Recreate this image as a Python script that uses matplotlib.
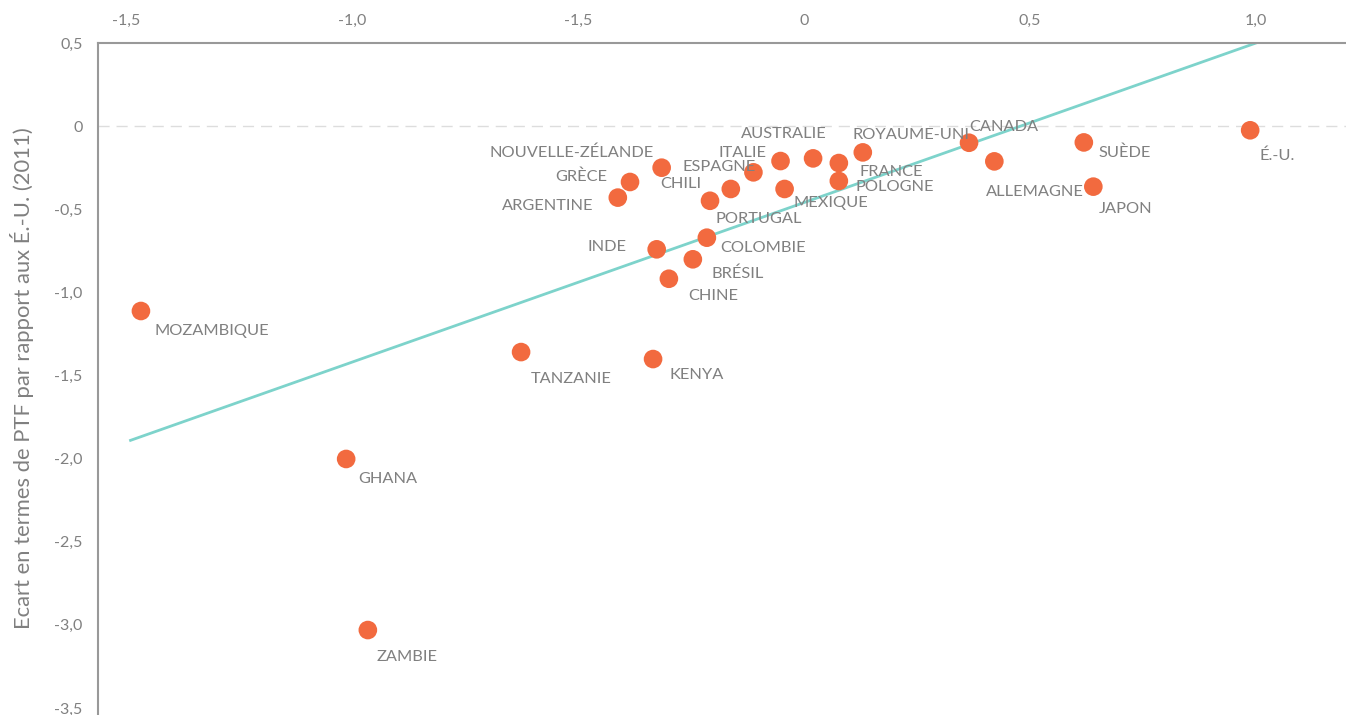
import matplotlib.pyplot as plt

countries = ["MOZAMBIQUE", "GHANA", "ZAMBIE", "TANZANIE", "KENYA", "NOUVELLE-ZÉLANDE",
             "GRÈCE", "ARGENTINE", "CHILI", "ESPAGNE", "ITALIE", "AUSTRALIE", "ROYAUME-UNI",
             "FRANCE", "POLOGNE", "MEXIQUE", "PORTUGAL", "COLOMBIE", "INDE", "BRÉSIL",
             "CHINE", "CANADA", "ALLEMAGNE", "SUÈDE", "JAPON", "É.-U."]
x_vals = [-1.467, -1.013, -0.965, -0.626, -0.334, -0.315, -0.385, -0.412, -0.162, -0.112,
          -0.052, 0.020, 0.130, 0.077, 0.077, -0.043, -0.208, -0.215, -0.326, -0.246,
          -0.299, 0.365, 0.421, 0.619, 0.640, 0.987]
y_vals = [-1.112, -2.002, -3.031, -1.359, -1.401, -0.250, -0.336, -0.430, -0.378, -0.278,
          -0.210, -0.194, -0.158, -0.222, -0.330, -0.378, -0.449, -0.671, -0.741, -0.801,
          -0.918, -0.100, -0.212, -0.098, -0.364, -0.025]

trend_x = [-1.49, 1.005]
trend_y = [-1.89, 0.505]

xticks = [-1.5, -1.0, -0.5, 0, 0.5, 1.0]
xtick_labels = ["-1,5", "-1,0", "-1,5", "0", "0,5", "1,0"]
yticks = [0.5, 0, -0.5, -1.0, -1.5, -2.0, -2.5, -3.0, -3.5]
ytick_labels = ["0,5", "0", "-0,5", "-1,0", "-1,5", "-2,0", "-2,5", "-3,0", "-3,5"]

# label offsets in pixels (dx, dy downward) and horizontal alignment
label_pos = {
    "MOZAMBIQUE": (14, 18, "left"), "GHANA": (12, 18, "left"), "ZAMBIE": (9, 25, "left"),
    "TANZANIE": (10, 25, "left"), "KENYA": (16, 14, "left"),
    "NOUVELLE-ZÉLANDE": (-8, -17, "right"), "GRÈCE": (-23, -7, "right"),
    "ARGENTINE": (-24, 6, "right"), "CHILI": (-29, -7, "right"), "ESPAGNE": (2, -7, "right"),
    "ITALIE": (-14, -10, "right"), "AUSTRALIE": (14, -26, "right"),
    "ROYAUME-UNI": (-10, -19, "left"), "FRANCE": (21, 7, "left"), "POLOGNE": (17, 4, "left"),
    "MEXIQUE": (9, 12, "left"), "PORTUGAL": (5, 16, "left"), "COLOMBIE": (13, 8, "left"),
    "INDE": (-30, -4, "right"), "BRÉSIL": (19, 12, "left"), "CHINE": (19, 15, "left"),
    "CANADA": (0, -18, "left"), "ALLEMAGNE": (-8, 29, "left"), "SUÈDE": (15, 8, "left"),
    "JAPON": (5, 20, "left"), "É.-U.": (9, 23, "left"),
}

plt.rcParams['font.family'] = ['Lato', 'DejaVu Sans']
gray = "#808080"

fig = plt.figure(figsize=(13.46, 7.15), dpi=100)
ax = fig.add_axes([98 / 1346, 0, 1 - 98 / 1346, 1 - 43 / 715])

ax.axhline(0, color="#dddddd", lw=1, dashes=(8, 5), zorder=1)
ax.plot(trend_x, trend_y, color="#7dd3cb", lw=2, zorder=2)
ax.scatter(x_vals, y_vals, s=180, color="#f26a3f", edgecolors="none", zorder=3)

for name, xv, yv in zip(countries, x_vals, y_vals):
    dx, dy, ha = label_pos[name]
    ax.annotate(name, (xv, yv), xytext=(dx, -dy - 2), textcoords="offset pixels",
                ha=ha, va="center", fontsize=11.8, color=gray)

ax.set_xlim(-1.562, 1.199)
ax.set_ylim(-3.542, 0.5)
ax.xaxis.tick_top()
ax.set_xticks(xticks)
ax.set_xticklabels(xtick_labels)
ax.set_yticks(yticks)
ax.set_yticklabels(ytick_labels)
ax.tick_params(length=0, labelsize=11.5, labelcolor=gray)
ax.tick_params(axis="x", pad=11)
ax.tick_params(axis="y", pad=11)

for side in ["right", "bottom"]:
    ax.spines[side].set_visible(False)
for side in ["left", "top"]:
    ax.spines[side].set_color("#999999")
    ax.spines[side].set_linewidth(1.5)

fig.text(22 / 1346, 1 - 378 / 715, "Ecart en termes de PTF par rapport aux É.-U. (2011)",
         rotation=90, ha="center", va="center", fontsize=15.8, color=gray)

fig.savefig("out.png", dpi=100)
